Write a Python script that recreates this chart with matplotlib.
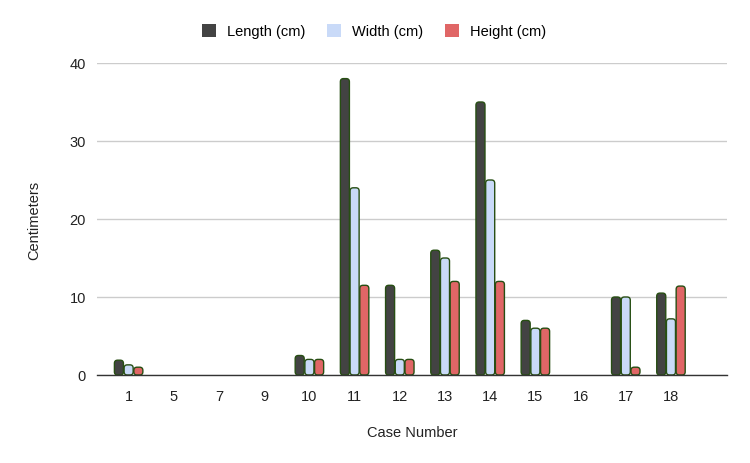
import matplotlib
matplotlib.use("Agg")
import matplotlib.pyplot as plt
from matplotlib.patches import FancyBboxPatch, Patch
import numpy as np

plt.rcParams['font.family'] = ['Liberation Sans', 'DejaVu Sans']

categories = ["1", "5", "7", "9", "10", "11", "12", "13", "14", "15", "16", "17", "18"]
length_cm = [1.9, 0, 0, 0, 2.5, 38, 11.5, 16, 35, 7, 0, 10, 10.5]
width_cm = [1.3, 0, 0, 0, 2, 24, 2, 15, 25, 6, 0, 10, 7.2]
height_cm = [1.0, 0, 0, 0, 2, 11.5, 2, 12, 12, 6, 0, 1, 11.4]
series_names = ["Length (cm)", "Width (cm)", "Height (cm)"]
colors = ["#434343", "#c9daf8", "#e06666"]
edge = "#274e13"

fig = plt.figure(figsize=(7.5, 4.64), dpi=100)
ax = fig.add_axes([97/750, 1-376/464, 630/750, 312/464])

x = np.arange(len(categories))
bw = 0.2
offs = [-0.215, 0, 0.215]
aspect = 45.2 / 7.8
for vals, off, c, name in zip([length_cm, width_cm, height_cm], offs, colors, series_names):
    bars = ax.bar(x + off, vals, bw, color=c, label=name, zorder=3)
    for b in bars:
        b.set_visible(False)
        h = b.get_height()
        if h <= 0:
            continue
        p = FancyBboxPatch((b.get_x(), b.get_y()), b.get_width(), h,
                           boxstyle="round,pad=0,rounding_size=0.07",
                           mutation_aspect=aspect, facecolor=c, edgecolor=edge,
                           linewidth=1.0, zorder=3)
        ax.add_patch(p)

ax.set_xlim(-0.7, 12 + 1.24)
ax.set_ylim(0, 40)
ax.set_yticks([0, 10, 20, 30, 40])
ax.set_xticks(x)
ax.set_xticklabels(categories)
ax.grid(axis='y', color='#cccccc', linewidth=1, zorder=0)
ax.set_axisbelow(True)
for s in ['top', 'right', 'left']:
    ax.spines[s].set_visible(False)
ax.spines['bottom'].set_color('#333333')
ax.spines['bottom'].set_linewidth(1)
ax.spines['bottom'].set_zorder(4)
ax.tick_params(axis='both', length=0, labelsize=10.5, colors='#222222')
ax.tick_params(axis='x', pad=10)
ax.tick_params(axis='y', pad=8)
ax.set_xlabel("Case Number", fontsize=10.5, color='#222222', labelpad=16)
ax.set_ylabel("Centimeters", fontsize=10.5, color='#222222', labelpad=20)

handles = [Patch(facecolor=c, edgecolor='none') for c in colors]
fig.legend(handles, series_names, loc='center', bbox_to_anchor=(374/750, 1-32/464),
           ncol=3, frameon=False, fontsize=10.5, handlelength=1.0, handleheight=1.0,
           handletextpad=0.75, columnspacing=1.45)

fig.savefig("out.png", dpi=100)
